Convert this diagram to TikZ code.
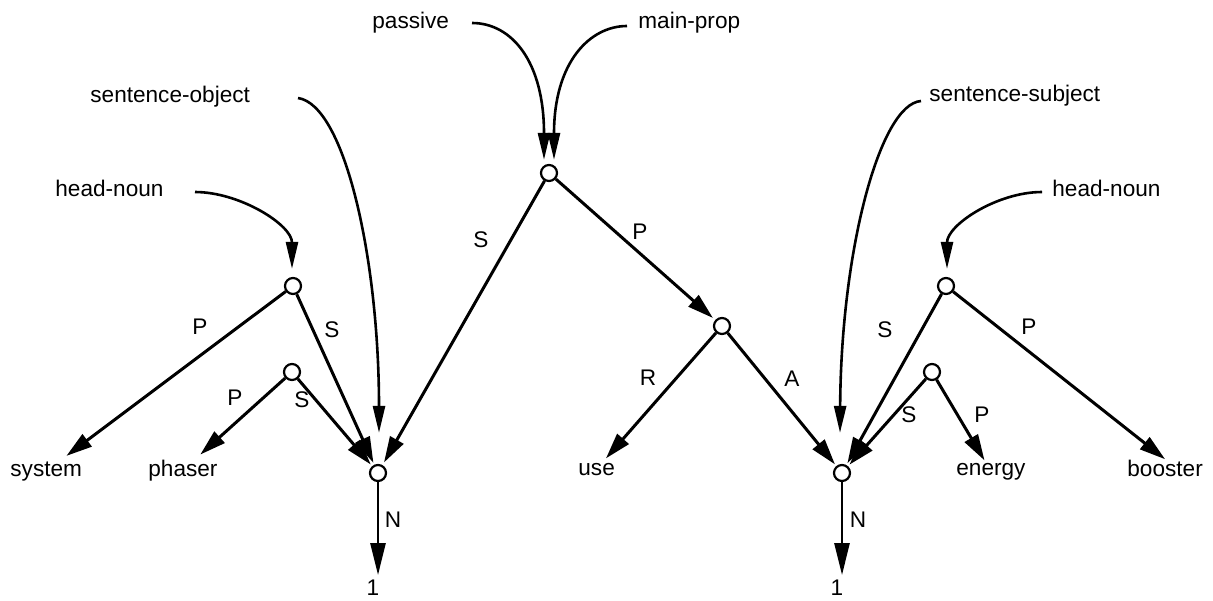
\documentclass[tikz,border=0pt]{standalone}
\usepackage{fontspec}
\setmainfont{Liberation Sans}
\usetikzlibrary{arrows.meta,calc}
\begin{document}
\begin{tikzpicture}[x=0.5pt,y=-0.5pt,
  every node/.style={font=\fontsize{11.3pt}{13pt}\selectfont},
  junction/.style={circle,draw,line width=1.1pt,fill=white,minimum size=8pt,inner sep=0pt},
  word/.style={inner sep=0pt,anchor=base west},
  lbl/.style={inner sep=0pt},
  link/.style={line width=1.5pt,-{Triangle[length=13pt,width=7.5pt]}},
  linkN/.style={line width=1.3pt,-{Triangle[length=16pt,width=7.5pt]}},
  pointer/.style={line width=1.3pt,-{Triangle[length=13.5pt,width=6pt]}},
]
\useasboundingbox (0,0) rectangle (1213,600);

% junctions
\node[junction] (T)  at (549,173) {};
\node[junction] (LU) at (293,286) {};
\node[junction] (LL) at (292,372) {};
\node[junction] (LH) at (378,473) {};
\node[junction] (MP) at (722,326) {};
\node[junction] (RH) at (842,473) {};
\node[junction] (RU) at (946,286) {};
\node[junction] (RL) at (932,372) {};

% words
\node[word] (passive)  at (372,28)  {passive};
\node[word] (mainprop) at (638,28)  {main-prop};
\node[word] (sobj)     at (90,102)  {sentence-object};
\node[word] (ssubj)    at (929,101) {sentence-subject};
\node[word] (hnL)      at (55,196)  {head-noun};
\node[word] (hnR)      at (1052,196) {head-noun};
\node[word] (system)   at (10,476)  {system};
\node[word] (phaser)   at (148,476) {phaser};
\node[word] (use)      at (578,475) {use};
\node[word] (energy)   at (956,475) {energy};
\node[word] (booster)  at (1127,476) {booster};
\node[lbl,anchor=base] (oneL) at (373,595) {1};
\node[lbl,anchor=base] (oneR) at (837,595) {1};

% role links
\draw[link,shorten >=1.5pt] (T) -- (LH);
\draw[link,shorten >=1.5pt] (T) -- (MP);
\draw[link,shorten >=1pt] (LU) -- (LH);
\draw[link,shorten >=1pt] (LL) -- (LH);
\draw[link,shorten >=1pt] (MP) -- (RH);
\draw[link,shorten >=1pt] (RU) -- (RH);
\draw[link,shorten >=1pt] (RL) -- (RH);
\draw[link,shorten >=4.25pt] (LU) -- (system);
\draw[link,shorten >=3.5pt] (LL) -- (phaser);
\draw[link,shorten >=2.7pt] (MP) -- (use);
\draw[link,shorten >=1.2pt] (RL) -- (energy);
\draw[link] (RU) -- (booster.north);
\draw[linkN,shorten >=2pt] (LH) -- (LH |- oneL.north);
\draw[linkN,shorten >=2pt] (RH) -- (RH |- oneR.north);

% feature pointers
\coordinate (cPas)  at (472,23);
\coordinate (cMain) at (627,26);
\coordinate (cSobj) at (298,98);
\coordinate (cSsub) at (921,101);
\coordinate (cHnL)  at (195,192);
\coordinate (cHnR)  at (1042,192);
\draw[pointer] (cPas)  .. controls (512,23) and (544,62) .. ($(T.north)+(-5,-4)$);
\draw[pointer] (cMain) .. controls (590,26) and (554,62) .. ($(T.north)+(5,-4)$);
\draw[pointer] (cSobj) .. controls (345,105) and (379,260) .. ($(LH.north)+(1,-31)$);
\draw[pointer] (cSsub) .. controls (880,104) and (841,250) .. ($(RH.north)+(-2,-31)$);
\draw[pointer] (cHnL)  .. controls (240,192) and (292,225) .. ($(LU.north)+(-1,-8)$);
\draw[pointer] (cHnR)  .. controls (997,192) and (947,225) .. ($(RU.north)+(1,-8)$);

% role labels
\node[lbl] (lTS)  at (481,240) {S};
\node[lbl] (lTP)  at (640,232) {P};
\node[lbl] (lUP)  at (200,327) {P};
\node[lbl] (lUS)  at (332,330) {S};
\node[lbl] (lLP)  at (235,398) {P};
\node[lbl] (lLS)  at (302,400) {S};
\node[lbl] (lMR)  at (648,378) {R};
\node[lbl] (lMA)  at (792,379) {A};
\node[lbl] (lRUS) at (885,330) {S};
\node[lbl] (lRUP) at (1029,327) {P};
\node[lbl] (lRLS) at (909,415) {S};
\node[lbl] (lRLP) at (982,415) {P};
\node[lbl] (lNL)  at (393,520) {N};
\node[lbl] (lNR)  at (858,520) {N};
\end{tikzpicture}
\end{document}
